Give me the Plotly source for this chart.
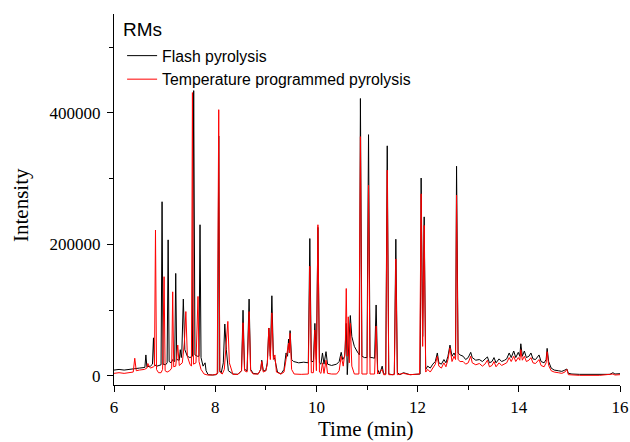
import plotly.graph_objects as go

# Flash pyrolysis chromatogram vertices (time in min, intensity)
flash_time = [6.00, 6.10, 6.20, 6.30, 6.40, 6.50, 6.60, 6.61, 6.63, 6.65, 6.72, 6.76, 6.78, 6.80,
              6.85, 6.93, 6.95, 6.97, 7.02, 7.05, 7.07, 7.09, 7.13, 7.16, 7.20, 7.22, 7.24, 7.29,
              7.31, 7.33, 7.34, 7.37, 7.40, 7.45, 7.50, 7.55, 7.575, 7.60, 7.65, 7.68, 7.70, 7.72,
              7.76, 7.80, 7.82, 7.86, 7.95, 8.02, 8.05, 8.07, 8.09, 8.12, 8.16, 8.19, 8.22, 8.26,
              8.35, 8.45, 8.52, 8.55, 8.58, 8.63, 8.67, 8.70, 8.75, 8.85, 8.90, 8.92, 8.95, 9.00,
              9.03, 9.06, 9.09, 9.12, 9.15, 9.18, 9.23, 9.30, 9.36, 9.40, 9.43, 9.45, 9.465, 9.48,
              9.51, 9.55, 9.65, 9.75, 9.84, 9.87, 9.90, 9.94, 9.97, 10.00, 10.03, 10.06, 10.09,
              10.12, 10.15, 10.19, 10.22, 10.30, 10.40, 10.45, 10.49, 10.52, 10.56, 10.59, 10.61,
              10.63, 10.67, 10.70, 10.75, 10.80, 10.85, 10.87, 10.90, 10.95, 11.00, 11.03, 11.06,
              11.10, 11.15, 11.18, 11.21, 11.25, 11.30, 11.33, 11.37, 11.40, 11.43, 11.50, 11.54,
              11.57, 11.60, 11.65, 11.72, 11.85, 12.00, 12.05, 12.07, 12.10, 12.13, 12.16, 12.20,
              12.25, 12.30, 12.35, 12.39, 12.42, 12.47, 12.52, 12.56, 12.60, 12.64, 12.68, 12.72,
              12.75, 12.77, 12.80, 12.84, 12.90, 12.95, 13.00, 13.05, 13.08, 13.15, 13.22, 13.28,
              13.33, 13.38, 13.42, 13.47, 13.51, 13.55, 13.61, 13.66, 13.72, 13.76, 13.81, 13.85,
              13.90, 13.94, 13.99, 14.02, 14.04, 14.07, 14.11, 14.15, 14.20, 14.24, 14.28, 14.33,
              14.40, 14.44, 14.50, 14.54, 14.56, 14.59, 14.64, 14.70, 14.78, 14.85, 14.91, 14.95,
              14.98, 15.05, 15.20, 15.40, 15.60, 15.80, 15.86, 15.90, 16.00]
flash_int = [9000, 10000, 9000, 9500, 11000, 12000, 13000, 13000, 32000, 14000, 15000, 18000, 58000, 17000,
             15000, 17000, 265000, 18000, 17000, 20000, 207000, 22000, 20000, 25000, 22000, 156000, 25000, 24000,
             40000, 28000, 35000, 117000, 40000, 30000, 28000, 30000, 434000, 32000, 30000, 30000, 230000, 28000,
             15000, 20000, 8000, 2000, 1500, 2000, 5000, 365000, 8000, 5000, 20000, 79000, 40000, 8000,
             3000, 2500, 8000, 100000, 10000, 8000, 117000, 10000, 4000, 3000, 10000, 24000, 8000, 8000,
             20000, 73000, 30000, 122000, 30000, 25000, 6000, 3000, 10000, 35000, 30000, 56000, 40000, 69000,
             25000, 22000, 20000, 21000, 20000, 209000, 22000, 22000, 80000, 25000, 226000, 20000, 18000,
             35000, 18000, 37000, 18000, 16000, 18000, 22000, 36000, 25000, 30000, 80000, 2000,
             40000, 92000, 60000, 45000, 38000, 32000, 422000, 30000, 28000, 28000, 367000, 28000,
             28000, 27000, 108000, 10000, 3000, 15000, 3000, 3000, 350000, 3000, 2000, 3000,
             208000, 5000, 2000, 5000, 2000, 2000, 3000, 301000, 60000, 242000, 10000, 15000,
             12000, 18000, 22000, 35000, 20000, 18000, 25000, 20000, 30000, 47000, 30000, 35000,
             30000, 319000, 35000, 32000, 30000, 25000, 28000, 36000, 28000, 24000, 25000, 22000,
             25000, 29000, 20000, 22000, 28000, 20000, 26000, 22000, 24000, 26000, 35000, 28000,
             38000, 28000, 36000, 30000, 49000, 30000, 38000, 28000, 30000, 35000, 26000, 25000,
             32000, 22000, 20000, 25000, 42000, 22000, 12000, 9000, 8000, 7000, 9000, 10600,
             4000, 3000, 2500, 2500, 2500, 2500, 5000, 3000, 3500]

# Temperature programmed pyrolysis chromatogram vertices
tpp_time = [6.00, 6.10, 6.20, 6.30, 6.38, 6.41, 6.44, 6.50, 6.60, 6.65, 6.67, 6.69, 6.72, 6.78, 6.80,
            6.82, 6.84, 6.88, 6.93, 6.96, 6.99, 7.01, 7.05, 7.10, 7.14, 7.16, 7.18, 7.22, 7.26, 7.29,
            7.35, 7.39, 7.42, 7.45, 7.50, 7.53, 7.55, 7.57, 7.62, 7.66, 7.68, 7.72, 7.78, 7.85, 7.95,
            8.04, 8.07, 8.09, 8.14, 8.18, 8.22, 8.25, 8.28, 8.35, 8.45, 8.52, 8.55, 8.58, 8.63, 8.67,
            8.70, 8.75, 8.85, 8.90, 8.92, 8.95, 9.00, 9.03, 9.06, 9.09, 9.12, 9.15, 9.18, 9.21, 9.30,
            9.36, 9.40, 9.45, 9.465, 9.48, 9.51, 9.56, 9.70, 9.84, 9.87, 9.90, 9.94, 9.97, 10.00,
            10.03, 10.06, 10.09, 10.12, 10.15, 10.19, 10.22, 10.30, 10.40, 10.45, 10.49, 10.53,
            10.57, 10.59, 10.61, 10.63, 10.65, 10.67, 10.70, 10.75, 10.84, 10.87, 10.90, 11.00,
            11.03, 11.06, 11.15, 11.18, 11.21, 11.30, 11.33, 11.37, 11.40, 11.43, 11.54, 11.57,
            11.60, 11.72, 11.85, 12.04, 12.07, 12.10, 12.13, 12.16, 12.20, 12.25, 12.30, 12.35,
            12.39, 12.42, 12.47, 12.52, 12.56, 12.60, 12.64, 12.68, 12.72, 12.75, 12.77, 12.80,
            12.84, 12.90, 12.95, 13.00, 13.05, 13.08, 13.15, 13.22, 13.28, 13.33, 13.38, 13.42,
            13.47, 13.51, 13.55, 13.61, 13.66, 13.72, 13.76, 13.81, 13.85, 13.90, 13.94, 13.99,
            14.02, 14.04, 14.07, 14.11, 14.15, 14.20, 14.24, 14.28, 14.33, 14.40, 14.44, 14.50,
            14.54, 14.56, 14.59, 14.64, 14.70, 14.78, 14.85, 14.91, 14.95, 14.98, 15.05, 15.20,
            15.60, 15.86, 15.90, 16.00]
tpp_int = [4000, 5000, 4000, 5000, 6000, 27000, 8000, 9000, 10000, 12000, 19000, 15000, 12000, 14000, 15000,
           222000, 10000, 5000, 5000, 10000, 151000, 8000, 6000, 8000, 12000, 128000, 14000, 15000, 47000, 16000,
           20000, 50000, 98000, 30000, 18000, 15000, 431000, 18000, 20000, 121000, 22000, 10000, 3000, 1500, 1500,
           3000, 405000, 6000, 3000, 10000, 50000, 83000, 20000, 2500, 2500, 8000, 81000, 8000, 6000, 98000,
           8000, 3000, 3000, 10000, 22000, 6000, 8000, 18000, 73000, 25000, 96000, 25000, 32000, 6000, 3000,
           6000, 25000, 50000, 35000, 65000, 10000, 3000, 2500, 3000, 167000, 5000, 5000, 70000, 8000,
           230000, 6000, 4000, 20000, 4000, 24000, 4000, 3000, 3000, 8000, 30000, 15000,
           40000, 133000, 30000, 90000, 20000, 80000, 15000, 3000, 3000, 364000, 3000, 3000,
           290000, 3000, 3000, 76000, 3000, 10000, 2000, 2000, 313000, 2000, 2000, 178000,
           2000, 4000, 2000, 3000, 277000, 45000, 229000, 6000, 10000, 6000, 12000, 18000,
           30000, 15000, 12000, 20000, 14000, 25000, 43000, 22000, 30000, 25000, 275000, 25000,
           22000, 22000, 18000, 20000, 30000, 20000, 17000, 19000, 15000, 18000, 24000, 14000,
           16000, 22000, 14000, 20000, 16000, 18000, 20000, 28000, 22000, 30000, 22000, 28000,
           24000, 40000, 24000, 30000, 22000, 24000, 28000, 20000, 19000, 25000, 16000, 14000,
           20000, 37000, 16000, 8000, 6000, 5000, 4000, 6000, 10000, 2000, 1500, 1000,
           1000, 3000, 1500, 2000]

series_names = ["Flash pyrolysis", "Temperature programmed pyrolysis"]
x_tick_vals = [6, 8, 10, 12, 14, 16]
y_tick_vals = [0, 200000, 400000]
y_tick_text = ["0", "200000", "400000"]

serif = "Liberation Serif, Times New Roman, serif"
sans = "Liberation Sans, Arial, sans-serif"

fig = go.Figure()
fig.add_trace(go.Scatter(x=flash_time, y=flash_int, mode="lines", name=series_names[0],
                         line=dict(color="black", width=1)))
fig.add_trace(go.Scatter(x=tpp_time, y=tpp_int, mode="lines", name=series_names[1],
                         line=dict(color="#ff0000", width=1)))

fig.update_layout(
    width=630, height=442,
    margin=dict(l=114, r=10, t=14, b=57, autoexpand=False),
    paper_bgcolor="white", plot_bgcolor="white",
    showlegend=True,
    legend=dict(x=0.016, y=0.933, xanchor="left", yanchor="top",
                font=dict(family=sans, size=15.8, color="black"),
                bgcolor="rgba(0,0,0,0)", tracegroupgap=0),
    xaxis=dict(range=[6, 16], tickvals=x_tick_vals, showgrid=False, zeroline=False,
               automargin=False,
               showline=True, linecolor="black", linewidth=1.3,
               ticks="outside", ticklen=6, tickwidth=1.3, tickcolor="black",
               tickfont=dict(family=serif, size=17, color="black"),
               minor=dict(dtick=1, tick0=6, ticks="outside", ticklen=4, tickwidth=1.3, tickcolor="black"),
               fixedrange=True),
    yaxis=dict(range=[-13700, 550500], tickvals=y_tick_vals, ticktext=y_tick_text,
               showgrid=False, zeroline=False, automargin=False,
               showline=True, linecolor="black", linewidth=1.3,
               ticks="outside", ticklen=6, tickwidth=1.3, tickcolor="black",
               tickfont=dict(family=serif, size=17, color="black"),
               ticklabelstandoff=3,
               minor=dict(dtick=100000, tick0=0, ticks="outside", ticklen=4, tickwidth=1.3, tickcolor="black"),
               fixedrange=True),
    annotations=[
        dict(text="RMs", xref="paper", yref="paper", x=(121 - 114) / 506, y=(385 - 29.5) / 371,
             xanchor="left", yanchor="middle", showarrow=False,
             font=dict(family=sans, size=19, color="black")),
        dict(text="Time (min)", xref="paper", yref="paper", x=(365 - 114) / 506, y=(385 - 429) / 371,
             xanchor="center", yanchor="middle", showarrow=False,
             font=dict(family=serif, size=21, color="black")),
        dict(text="Intensity", xref="paper", yref="paper", x=(21 - 114) / 506, y=(385 - 205) / 371,
             xanchor="center", yanchor="middle", showarrow=False, textangle=-90,
             font=dict(family=serif, size=21, color="black")),
    ],
)

fig.write_html("out.html")
